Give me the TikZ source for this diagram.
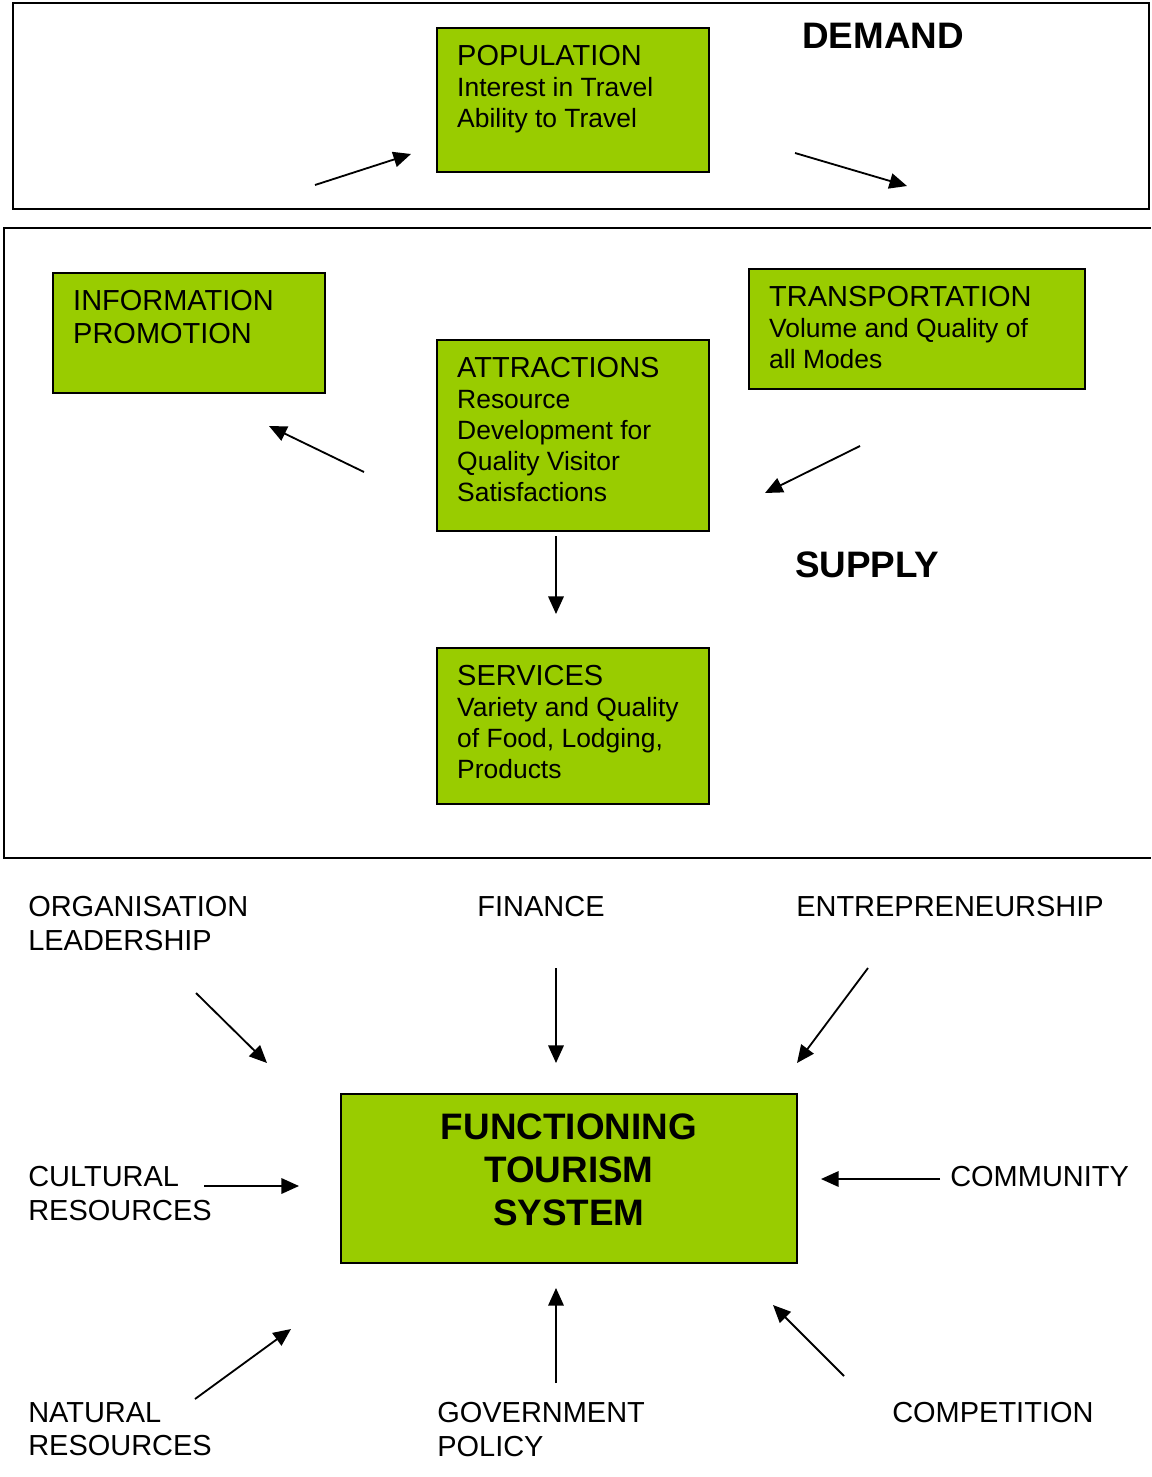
\documentclass[tikz,border=0pt]{standalone}
\usepackage{fontspec}
\setmainfont{Liberation Sans}
\usetikzlibrary{arrows.meta}
\definecolor{boxgreen}{HTML}{99CC00}
\newcommand{\headfont}{\fontsize{20.6}{23.4}\selectfont}
\newcommand{\subfont}{\fontsize{18.8}{22}\selectfont}
\newcommand{\bigfont}{\fontsize{26.2}{30.5}\selectfont\bfseries}
\tikzset{
    greenbox/.style={
        rectangle, draw=black, line width=1.2pt, fill=boxgreen,
        anchor=north west, inner sep=0pt
    },
    boxtext/.style={
        anchor=north west, align=left, inner sep=0pt,
        font=\subfont, xshift=14.9pt, yshift=-12.7pt
    },
    factor/.style={
        anchor=north west, align=left, inner sep=0pt,
        font=\fontsize{20.6}{24}\selectfont
    },
    title/.style={inner sep=0pt, font=\bigfont},
    frame/.style={draw=black, line width=1.2pt},
    arr/.style={
        -{Triangle[length=12.5pt, width=11pt]}, line width=1.3pt
    }
}

\begin{document}
\begin{tikzpicture}[x=0.025cm, y=-0.025cm]

    \useasboundingbox (0,0) rectangle (1151,1477);

    % Frames
    \draw[frame] (13,3) rectangle (1149,209);
    \draw[frame] (1151,228) -- (4,228) -- (4,858) -- (1151,858);
    \node[title] (demand) at (883,36) {DEMAND};
    \node[title] (supply) at (867,565) {SUPPLY};

    % Boxes
    \node[greenbox, minimum width=6.8cm, minimum height=3.6cm,
        label={[boxtext]north west:{{\headfont POPULATION}\\Interest in Travel\\Ability to Travel}}]
        (pop) at (436,27) {};
    \node[greenbox, minimum width=6.8cm, minimum height=3cm,
        label={[boxtext, font=\headfont]north west:{INFORMATION\\PROMOTION}}]
        (info) at (52,272) {};
    \node[greenbox, minimum width=8.4cm, minimum height=3cm,
        label={[boxtext]north west:{{\headfont TRANSPORTATION}\\Volume and Quality of\\all Modes}}]
        (trans) at (748,268) {};
    \node[greenbox, minimum width=6.8cm, minimum height=4.775cm,
        label={[boxtext]north west:{{\headfont ATTRACTIONS}\\Resource\\Development for\\Quality Visitor\\Satisfactions}}]
        (attr) at (436,339) {};
    \node[greenbox, minimum width=6.8cm, minimum height=3.9cm,
        label={[boxtext]north west:{{\headfont SERVICES}\\Variety and Quality\\of Food, Lodging,\\Products}}]
        (serv) at (436,647) {};
    \node[greenbox, minimum width=11.4cm, minimum height=4.225cm,
        label={[title, align=center, anchor=north, yshift=-14.4pt]north:{FUNCTIONING\\TOURISM\\SYSTEM}}]
        (fts) at (340,1093) {};

    % Factors
    \node[factor] (org) at (28,896) {ORGANISATION\\LEADERSHIP};
    \node[factor, anchor=north] (fin) at (541,896) {FINANCE};
    \node[factor] (ent) at (796,896) {ENTREPRENEURSHIP};
    \node[factor] (cult) at (28,1166) {CULTURAL\\RESOURCES};
    \node[factor] (comm) at (950,1166) {COMMUNITY};
    \node[factor] (nat) at (28,1402) {NATURAL\\RESOURCES};
    \node[factor] (gov) at (437,1402) {GOVERNMENT\\POLICY};
    \node[factor] (comp) at (892,1402) {COMPETITION};

    % Arrow ends
    \coordinate (popin) at (315,185);   \coordinate (popin') at (411,154);
    \coordinate (popout) at (795,153);  \coordinate (popout') at (907,186);
    \coordinate (toinfo) at (364,472);  \coordinate (toinfo') at (269,426);
    \coordinate (fromtr) at (860,446);  \coordinate (fromtr') at (765,493);
    \coordinate (toserv) at (556,536);  \coordinate (toserv') at (556,614);
    \coordinate (orgin) at (196,993);   \coordinate (orgin') at (267,1063);
    \coordinate (finin) at (556,968);   \coordinate (finin') at (556,1063);
    \coordinate (entin) at (868,968);   \coordinate (entin') at (797,1063);
    \coordinate (cultin) at (204,1186); \coordinate (cultin') at (299,1186);
    \coordinate (commin) at (940,1179); \coordinate (commin') at (821,1179);
    \coordinate (natin) at (195,1399);  \coordinate (natin') at (291,1329);
    \coordinate (govin) at (556,1383);  \coordinate (govin') at (556,1288);
    \coordinate (compin) at (844,1376); \coordinate (compin') at (773,1305);

    % Edges
    \draw[arr] (popin) -- (popin');
    \draw[arr] (popout) -- (popout');
    \draw[arr] (toinfo) -- (toinfo');
    \draw[arr] (fromtr) -- (fromtr');
    \draw[arr] (toserv) -- (toserv');
    \draw[arr] (orgin) -- (orgin');
    \draw[arr] (finin) -- (finin');
    \draw[arr] (entin) -- (entin');
    \draw[arr] (cultin) -- (cultin');
    \draw[arr] (commin) -- (commin');
    \draw[arr] (natin) -- (natin');
    \draw[arr] (govin) -- (govin');
    \draw[arr] (compin) -- (compin');

\end{tikzpicture}
\end{document}
